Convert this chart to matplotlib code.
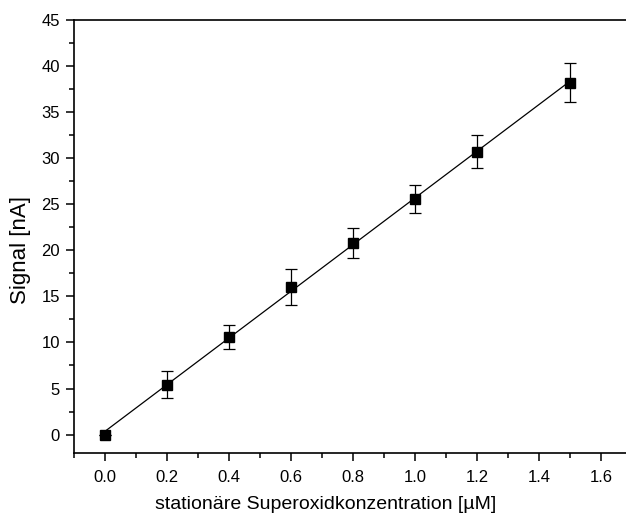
import numpy as np
import matplotlib
matplotlib.use('Agg')
import matplotlib.pyplot as plt
from matplotlib.ticker import MultipleLocator

plt.rcParams['font.family'] = ['Liberation Sans', 'DejaVu Sans']

# Messwerte
konzentration = [0.0, 0.2, 0.4, 0.6, 0.8, 1.0, 1.2, 1.5]  # µM
signal = [0.0, 5.4, 10.6, 16.0, 20.8, 25.6, 30.7, 38.2]  # nA
fehler = [0.0, 1.45, 1.3, 1.95, 1.6, 1.5, 1.8, 2.1]

x_ticks = [0.0, 0.2, 0.4, 0.6, 0.8, 1.0, 1.2, 1.4, 1.6]
y_ticks = [0, 5, 10, 15, 20, 25, 30, 35, 40, 45]

fig = plt.figure(figsize=(6.26, 5.15), dpi=100)
ax = fig.add_axes([74/626, 1-453/515, 1-74/626, (453-20)/515])

# lineare Regression
m, b = np.polyfit(konzentration, signal, 1)
xf = np.array([konzentration[0], konzentration[-1]])
ax.plot(xf, m*xf + b, color='black', lw=0.9, zorder=2)

ax.errorbar(konzentration, signal, yerr=fehler, fmt='s', color='black',
            markersize=7, ecolor='black', elinewidth=0.9, capsize=4,
            capthick=0.9, zorder=3)

ax.set_xlim(-0.1, 1.68)
ax.set_ylim(-2, 45)
ax.set_xticks(x_ticks)
ax.set_xticklabels(['%.1f' % v for v in x_ticks])
ax.set_yticks(y_ticks)
ax.xaxis.set_minor_locator(MultipleLocator(0.1))
ax.yaxis.set_minor_locator(MultipleLocator(2.5))

ax.spines['right'].set_visible(False)
for s in ['left', 'bottom', 'top']:
    ax.spines[s].set_linewidth(1.2)

ax.tick_params(which='major', direction='out', length=6, width=1.1, labelsize=12, pad=4)
ax.tick_params(axis='x', which='major', pad=6)
ax.tick_params(which='minor', direction='out', length=3.5, width=1.1)
ax.tick_params(top=False, right=False, which='both')

ax.set_xlabel('stationäre Superoxidkonzentration [µM]', fontsize=14)
ax.set_ylabel('Signal [nA]', fontsize=16)
ax.xaxis.set_label_coords(0.455, -0.1)
ax.yaxis.set_label_coords(-0.077, 0.469)

fig.savefig('out.png', dpi=100)
